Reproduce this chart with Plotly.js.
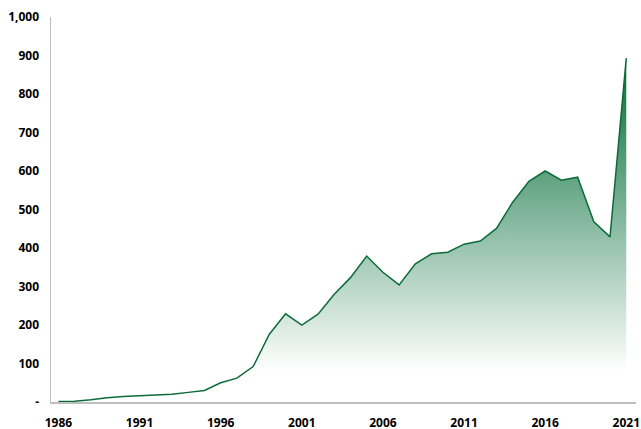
<!DOCTYPE html>
<html>
<head>
<meta charset="utf-8">
<script src="https://cdn.plot.ly/plotly-3.0.1.min.js"></script>
<style>html,body{margin:0;padding:0;background:#fff;}#chart{width:641px;height:429px;}</style>
</head>
<body>
<div id="chart"></div>
<script>
const years = [1986,1987,1988,1989,1990,1991,1992,1993,1994,1995,1996,1997,1998,1999,2000,2001,2002,2003,2004,2005,2006,2007,2008,2009,2010,2011,2012,2013,2014,2015,2016,2017,2018,2019,2020,2021];
const values = [1,2,6,11,14,16,19,20,25,30,50,62,92,176,229,200,228,280,323,379,337,304,359,385,389,410,418,451,519,573,600,576,584,468,429,893];
const xTickVals = [1986,1991,1996,2001,2006,2011,2016,2021];
const xTickText = ['1986','1991','1996','2001','2006','2011','2016','2021'];
const yTickVals = [0,100,200,300,400,500,600,700,800,900,1000];
const yTickText = ['-','100','200','300','400','500','600','700','800','900','1,000'];

const trace = {
  x: years, y: values, type: 'scatter', mode: 'lines',
  line: {color: '#0b6b3a', width: 1.5},
  fill: 'tozeroy',
  fillgradient: {
    type: 'vertical',
    start: 80, stop: 900,
    colorscale: [[0,'rgb(255,255,255)'],[1,'rgb(0,106,53)']]
  },
  hoverinfo: 'skip'
};

const tf = {family: '"Open Sans", sans-serif', size: 12, color: '#000', weight: 'bold'};
const layout = {
  width: 641, height: 429,
  margin: {l: 51, r: 5, t: 17, b: 27, pad: 0},
  paper_bgcolor: '#fff', plot_bgcolor: '#fff',
  showlegend: false,
  font: {family: '"Open Sans", sans-serif', size: 12, color: '#000'},
  xaxis: {
    range: [1985.54, 2021.6],
    tickvals: xTickVals, ticktext: xTickText,
    showgrid: false, zeroline: false,
    showline: true, linecolor: '#bfbfbf', linewidth: 1.5,
    ticks: '', ticklabelstandoff: 9,
    tickfont: tf
  },
  yaxis: {
    range: [0, 1000],
    tickvals: yTickVals, ticktext: yTickText,
    showgrid: false, zeroline: false,
    showline: true, linecolor: '#bfbfbf', linewidth: 1.5,
    ticks: '', ticklabelstandoff: 8,
    tickfont: tf
  }
};

Plotly.newPlot('chart', [trace], layout, {displayModeBar: false, staticPlot: true});
</script>
</body>
</html>
